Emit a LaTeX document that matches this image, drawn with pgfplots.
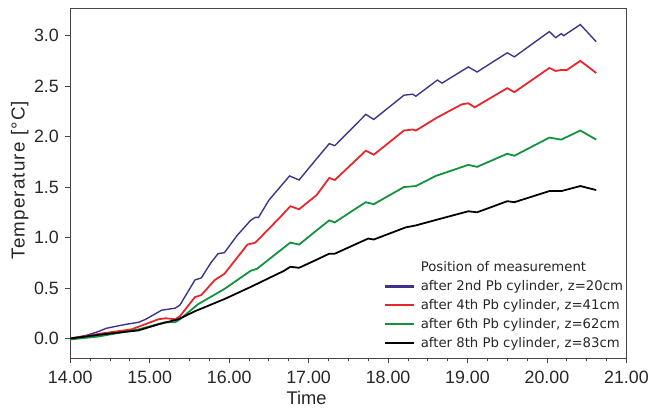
\documentclass[border=0pt]{standalone}
\usepackage{pgfplots}
\pgfplotsset{compat=1.18}
\usepackage{fontspec}
\setmainfont{Liberation Sans}
\newfontfamily\legfont{DejaVu Sans}
\newfontfamily\ylabfont[LetterSpace=6]{Liberation Sans}
\definecolor{cblue}{RGB}{58,52,140}
\definecolor{cred}{RGB}{232,38,43}
\definecolor{cgreen}{RGB}{18,146,62}
\definecolor{axgray}{RGB}{70,70,70}
\begin{document}
\begin{tikzpicture}
\path (-71pt,-45pt) rectangle (581pt,362pt);
\begin{axis}[
  at={(0pt,0pt)}, anchor=south west,
  scale only axis, width=562pt, height=353pt,
  xmin=14, xmax=21, ymin=-0.196, ymax=3.265,
  xtick={14,15,...,21}, ytick={0,0.5,...,3},
  minor x tick num=3,
  xtick pos=bottom, ytick pos=left,
  tick align=outside,
  major tick length=5pt, minor tick length=3pt,
  every tick/.style={axgray, line width=0.8pt},
  axis line style={axgray, line width=1pt},
  x tick label style={/pgf/number format/fixed, /pgf/number format/fixed zerofill, /pgf/number format/precision=2, /pgf/number format/assume math mode=true, yshift=-4pt},
  y tick label style={/pgf/number format/fixed, /pgf/number format/fixed zerofill, /pgf/number format/precision=1, /pgf/number format/assume math mode=true, xshift=-3pt},
  ticklabel style={font=\fontsize{18}{20}\selectfont, text=black!85},
  xlabel={Time}, ylabel={Temperature [°C]},
  every axis x label/.style={at={(axis description cs:0.425,-0.113)}, anchor=center, font=\fontsize{18.5}{20}\selectfont, text=black!85},
  every axis y label/.style={at={(axis description cs:-0.091,0.51)}, anchor=center, rotate=90, font=\ylabfont\fontsize{19}{20}\selectfont, text=black!85},
  legend style={at={(axis description cs:0.5585,0.014)}, anchor=south west, draw=none, fill=none,
    font=\legfont\fontsize{13.4}{16}\selectfont, text=black!85, row sep=3.5pt, column sep=4pt},
  legend cell align=left,
  legend image code/.code={\draw[mark repeat=2,mark phase=2,#1,line width=2.1pt] plot coordinates {(0pt,0pt) (14.5pt,0pt) (29pt,0pt)};},
]
\addlegendimage{empty legend}
\addlegendentry{Position of measurement}
\addplot[cblue, line width=1.4pt] coordinates {
(14.00,0.00) (14.20,0.03) (14.36,0.07) (14.45,0.10) (14.70,0.14) (14.86,0.16) (14.95,0.19)
(15.15,0.28) (15.32,0.30) (15.38,0.33) (15.57,0.58) (15.65,0.60) (15.77,0.75) (15.86,0.84)
(15.94,0.85) (16.10,1.02) (16.27,1.17) (16.33,1.20) (16.37,1.20) (16.50,1.37) (16.76,1.61)
(16.88,1.57) (17.10,1.78) (17.26,1.93) (17.33,1.91) (17.72,2.22) (17.82,2.17) (18.20,2.41)
(18.31,2.42) (18.35,2.40) (18.62,2.56) (18.68,2.53) (19.01,2.69) (19.12,2.64) (19.50,2.83)
(19.59,2.79) (20.03,3.04) (20.11,2.98) (20.18,3.02) (20.21,3.00) (20.42,3.11) (20.62,2.94)
};
\addlegendentry{after 2nd Pb cylinder, z=20cm}
\addplot[cred, line width=1.8pt] coordinates {
(14.00,0.00) (14.40,0.05) (14.77,0.09) (15.11,0.19) (15.20,0.20) (15.32,0.19) (15.38,0.22)
(15.57,0.41) (15.65,0.43) (15.82,0.58) (15.94,0.64) (16.23,0.93) (16.33,0.95) (16.64,1.20)
(16.77,1.31) (16.88,1.28) (17.10,1.42) (17.26,1.59) (17.33,1.57) (17.72,1.86) (17.82,1.82)
(18.20,2.06) (18.31,2.07) (18.35,2.06) (18.62,2.19) (18.93,2.32) (19.01,2.33) (19.09,2.29)
(19.50,2.48) (19.59,2.44) (20.03,2.68) (20.11,2.65) (20.18,2.66) (20.25,2.66) (20.42,2.75)
(20.62,2.63)
};
\addlegendentry{after 4th Pb cylinder, z=41cm}
\addplot[cgreen, line width=1.8pt] coordinates {
(14.00,-0.01) (14.36,0.02) (14.86,0.09) (15.19,0.16) (15.32,0.16) (15.38,0.19) (15.61,0.34)
(15.94,0.49) (16.27,0.67) (16.35,0.69) (16.64,0.87) (16.77,0.95) (16.88,0.93) (17.10,1.07)
(17.26,1.17) (17.33,1.15) (17.60,1.29) (17.72,1.35) (17.82,1.33) (18.20,1.50) (18.35,1.51)
(18.60,1.61) (19.01,1.72) (19.12,1.70) (19.50,1.83) (19.59,1.81) (20.03,1.99) (20.18,1.97)
(20.42,2.06) (20.62,1.97)
};
\addlegendentry{after 6th Pb cylinder, z=62cm}
\addplot[black, line width=1.8pt] coordinates {
(14.00,0.00) (14.40,0.04) (14.86,0.08) (15.11,0.14) (15.36,0.19) (15.57,0.27) (15.94,0.39)
(16.27,0.51) (16.69,0.67) (16.77,0.71) (16.88,0.70) (17.10,0.78) (17.26,0.84) (17.33,0.84)
(17.75,0.99) (17.82,0.98) (18.22,1.10) (18.35,1.12) (18.63,1.18) (19.01,1.26) (19.12,1.25)
(19.26,1.29) (19.50,1.36) (19.59,1.35) (20.03,1.46) (20.18,1.46) (20.42,1.51) (20.62,1.47)
};
\addlegendentry{after 8th Pb cylinder, z=83cm}
\end{axis}
\end{tikzpicture}
\end{document}
